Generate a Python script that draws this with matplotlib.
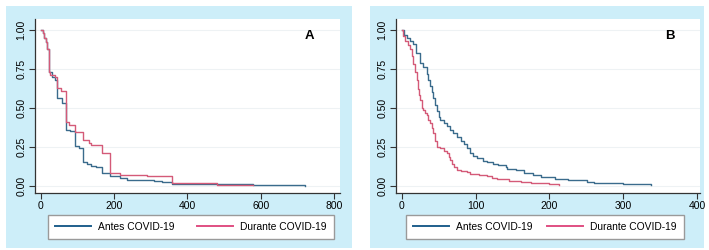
import matplotlib.pyplot as plt
from matplotlib.patches import Rectangle
from matplotlib.lines import Line2D

plt.rcParams['font.family'] = ['Liberation Sans', 'DejaVu Sans']

## Datos (curvas de Kaplan-Meier)
a_antes_t = [0, 5, 10, 14, 18, 22, 30, 40, 45, 58, 68, 70, 80, 94, 105, 116, 127, 136, 150, 167, 189, 216, 236, 310, 330, 357, 580, 720]
a_antes_s = [1.0, 0.98, 0.95, 0.92, 0.88, 0.73, 0.70, 0.68, 0.56, 0.53, 0.515, 0.36, 0.35, 0.255, 0.24, 0.154, 0.14, 0.128, 0.12, 0.08, 0.06, 0.05, 0.035, 0.03, 0.025, 0.01, 0.005, 0.0]

a_durante_t = [0, 5, 10, 14, 18, 22, 25, 40, 45, 55, 68, 77, 94, 116, 132, 138, 167, 189, 216, 289, 359, 480, 578]
a_durante_s = [1.0, 0.98, 0.95, 0.92, 0.88, 0.73, 0.71, 0.70, 0.625, 0.61, 0.41, 0.39, 0.347, 0.293, 0.275, 0.26, 0.208, 0.084, 0.07, 0.063, 0.015, 0.005, 0.005]

b_antes_t = [0, 3, 7, 12, 16, 20, 25, 29, 34, 36, 39, 41, 43, 45, 48, 50, 52, 57, 62, 66, 70, 75, 80, 84, 88, 93, 97, 102, 110, 116, 123, 130, 141, 143, 155, 166, 178, 189, 207, 225, 251, 260, 300, 330, 337]
b_antes_s = [1.0, 0.97, 0.95, 0.93, 0.91, 0.85, 0.79, 0.76, 0.72, 0.68, 0.64, 0.60, 0.56, 0.52, 0.48, 0.44, 0.42, 0.40, 0.38, 0.356, 0.335, 0.313, 0.29, 0.27, 0.24, 0.207, 0.19, 0.175, 0.16, 0.154, 0.14, 0.132, 0.122, 0.104, 0.10, 0.079, 0.07, 0.058, 0.045, 0.036, 0.026, 0.015, 0.012, 0.01, 0.002]

b_durante_t = [0, 2, 4.5, 8, 11, 14, 16, 18, 20.5, 22, 24, 25, 27, 29.5, 32, 34, 36, 38.6, 41, 43, 45, 47.7, 52, 57, 61, 64, 66, 68, 70.5, 75, 80, 88.6, 93, 105, 116, 122, 129.5, 145, 161, 175, 189, 200, 213]
b_durante_s = [1.0, 0.96, 0.93, 0.90, 0.88, 0.83, 0.78, 0.73, 0.676, 0.62, 0.58, 0.548, 0.50, 0.484, 0.465, 0.452, 0.42, 0.40, 0.37, 0.335, 0.29, 0.25, 0.24, 0.225, 0.207, 0.185, 0.164, 0.14, 0.122, 0.10, 0.095, 0.09, 0.075, 0.068, 0.062, 0.05, 0.04, 0.032, 0.026, 0.02, 0.015, 0.01, 0.005]

y_ticks = [0.0, 0.25, 0.5, 0.75, 1.0]
y_labels = ["0.00", "0.25", "0.50", "0.75", "1.00"]
a_xticks = [0, 200, 400, 600, 800]
b_xticks = [0, 100, 200, 300, 400]
series_labels = ["Antes COVID-19", "Durante COVID-19"]

C_ANTES = '#3a6b8c'
C_DURANTE = '#d45a78'
BG = '#cdeef9'
W, H = 709, 250

fig = plt.figure(figsize=(W / 100, H / 100), dpi=100)

def px(x0, y0, x1, y1):
    # caja en pixeles (desde arriba) -> fraccion de figura
    return [x0 / W, 1 - y1 / H, (x1 - x0) / W, (y1 - y0) / H]

def panel(box, axbox, legbox, xticks, xlim, antes, durante, letter):
    b = px(*box)
    fig.patches.append(Rectangle((b[0], b[1]), b[2], b[3], transform=fig.transFigure,
                                 facecolor=BG, edgecolor='none', zorder=-5))
    ax = fig.add_axes(px(*axbox))
    ax.set_facecolor('white')
    ax.step(antes[0], antes[1], where='post', color=C_ANTES, lw=1.0)
    ax.step(durante[0], durante[1], where='post', color=C_DURANTE, lw=1.0)
    ax.set_xlim(*xlim)
    ax.set_ylim(-0.047, 1.07)
    ax.set_yticks(y_ticks)
    ax.set_yticklabels(y_labels, rotation=90, va='center')
    ax.set_xticks(xticks)
    ax.tick_params(labelsize=7.5, length=4, width=0.8, color='#333333', pad=2)
    for s in ['top', 'right']:
        ax.spines[s].set_visible(False)
    for s in ['left', 'bottom']:
        ax.spines[s].set_color('#333333')
        ax.spines[s].set_linewidth(0.9)
    ax.grid(axis='y', color='#eef2f4', lw=0.8)
    ax.set_axisbelow(True)
    ax.text(0.9, 0.905, letter, transform=ax.transAxes, fontsize=9.5,
            fontweight='bold', ha='center', va='center')
    handles = [Line2D([], [], color='#1f5f8c', lw=1.4),
               Line2D([], [], color='#e04f82', lw=1.4)]
    lb = px(*legbox)
    fig.legend(handles, series_labels, bbox_to_anchor=lb, loc='lower left',
               mode='expand', ncol=2, fontsize=7.4, frameon=True, fancybox=False,
               edgecolor='#9a9a9a', framealpha=1, handlelength=3.5,
               handletextpad=0.7, borderaxespad=0, borderpad=0.7)
    return ax

panel((6, 6, 352, 248), (35, 19, 340, 193), (48, 217, 334, 239), a_xticks, (-15.5, 816),
      (a_antes_t, a_antes_s), (a_durante_t, a_durante_s), "A")
panel((370, 6, 704, 248), (395.7, 19, 700, 193), (406, 217, 684, 239), b_xticks, (-8, 403.6),
      (b_antes_t, b_antes_s), (b_durante_t, b_durante_s), "B")

fig.savefig("out.png", dpi=100)
